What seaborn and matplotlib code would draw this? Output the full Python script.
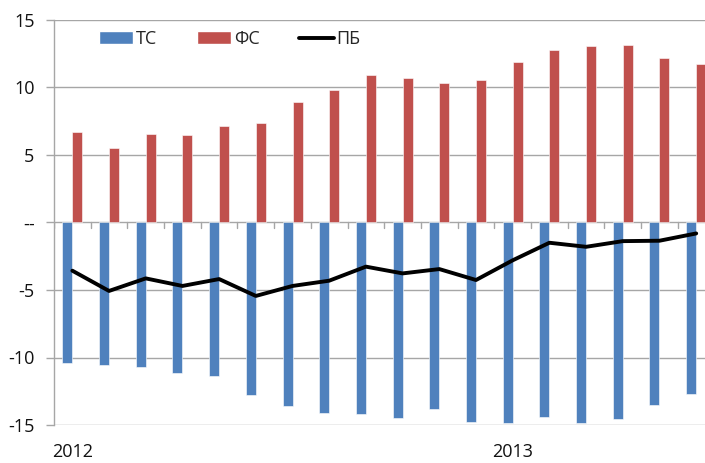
import numpy as np
import pandas as pd
import matplotlib
matplotlib.use("Agg")
import matplotlib.pyplot as plt
import seaborn as sns
from matplotlib.patches import Patch
from matplotlib.lines import Line2D

# ---- data ----
periods = [f"P{i+1}" for i in range(18)]
ts_values = [-10.42, -10.52, -10.69, -11.18, -11.35, -12.76, -13.62, -14.09, -14.19,
             -14.48, -13.82, -14.75, -14.85, -14.38, -14.85, -14.58, -13.52, -12.68]
fs_values = [6.72, 5.52, 6.55, 6.45, 7.12, 7.39, 8.92, 9.85, 10.89,
             10.71, 10.32, 10.52, 11.92, 12.78, 13.05, 13.18, 12.19, 11.75]
pb_values = [-3.57, -5.07, -4.14, -4.70, -4.19, -5.44, -4.70, -4.31, -3.27,
             -3.77, -3.45, -4.26, -2.80, -1.50, -1.80, -1.38, -1.35, -0.81]
year_labels = {0: "2012", 12: "2013"}
y_ticks = [-15, -10, -5, 0, 5, 10, 15]
y_tick_labels = ["-15", "-10", "-5", "--", "5", "10", "15"]
series_names = ["ТС", "ФС", "ПБ"]

sns.set_theme(style="white")
plt.rcParams['font.family'] = ['Open Sans', 'DejaVu Sans']

bars = pd.DataFrame({
    "period": periods * 2,
    "value": ts_values + fs_values,
    "series": [series_names[0]] * 18 + [series_names[1]] * 18,
})
line = pd.DataFrame({"x": np.arange(18), "value": pb_values})

fig = plt.figure(figsize=(7.05, 4.63), dpi=100)
ax = fig.add_axes([54 / 705, 1 - 425 / 463, 1 - 54 / 705, (425 - 20) / 463])

ax.set_axisbelow(True)
for y in y_ticks:
    if y != 0:
        ax.axhline(y, color="#A6A6A6", lw=1.0, zorder=0)

sns.barplot(data=bars, x="period", y="value", hue="series", order=periods,
            palette=["#4F81BD", "#C0504D"], saturation=1, width=0.545, dodge=True,
            edgecolor="#FFFFFF", linewidth=0.4, ax=ax, legend=False, zorder=2)
sns.lineplot(data=line, x="x", y="value", color="black", lw=2.8, ax=ax,
             zorder=3, legend=False)

ax.axhline(0, color="#A6A6A6", lw=1.0, zorder=1)

ax.set_ylim(-15, 15)
ax.set_xlim(-0.5, 17.24)
ax.set_yticks(y_ticks)
ax.set_yticklabels(y_tick_labels)
ax.set_xticks(list(year_labels.keys()))
ax.set_xticklabels(list(year_labels.values()))
ax.set_xlabel("")
ax.set_ylabel("")

for s in ["top", "right", "bottom"]:
    ax.spines[s].set_visible(False)
ax.spines["left"].set_color("#A6A6A6")
ax.spines["left"].set_linewidth(1.0)

ax.tick_params(axis="y", which="both", left=True, length=6, width=1.0,
               color="#A6A6A6", labelsize=13, pad=8, labelcolor="#111111")
ax.tick_params(axis="x", which="major", bottom=False, labelsize=13, pad=7,
               labelcolor="#111111")

# category boundary ticks hanging below the zero line
for b in np.arange(-0.5, 17.6, 1.0):
    ax.plot([b, b], [0, -0.4], color="#A6A6A6", lw=1.0, zorder=1, clip_on=True)

handles = [Patch(facecolor="#4F81BD"), Patch(facecolor="#C0504D"),
           Line2D([0], [0], color="black", lw=2.8)]
ax.legend(handles, series_names, loc="upper left", bbox_to_anchor=(0.069, 0.975),
          ncol=3, frameon=False, fontsize=13, columnspacing=2.2,
          handlelength=1.9, handleheight=0.7, handletextpad=0.15,
          borderaxespad=0, borderpad=0)

fig.savefig("out.png", dpi=100)
